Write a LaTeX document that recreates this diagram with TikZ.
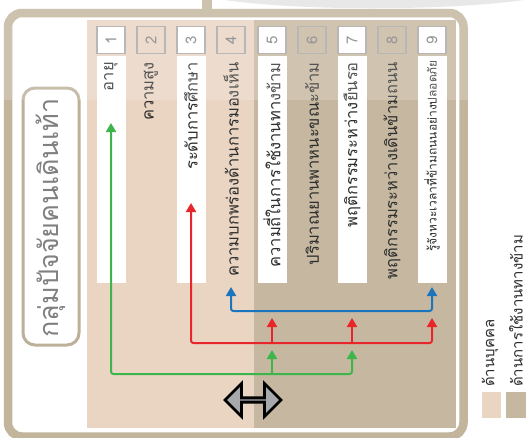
\documentclass[tikz,border=0pt]{standalone}
\usepackage{fontspec}
\newfontfamily\thaifont[Script=Thai]{Loma}
\usetikzlibrary{arrows.meta,shapes.arrows}

\definecolor{frameC}{HTML}{C3B59C}
\definecolor{lightC}{HTML}{EAD5C3}
\definecolor{darkC}{HTML}{C6B8A0}
\definecolor{boxB}{HTML}{A8A8A8}
\definecolor{titleB}{HTML}{BDB09A}
\definecolor{txtC}{HTML}{2E2E2E}
\definecolor{gArr}{HTML}{3DB54A}
\definecolor{rArr}{HTML}{E8252B}
\definecolor{bArr}{HTML}{1B75BC}
\definecolor{arrG}{HTML}{A7A9AC}
\definecolor{discC}{HTML}{E4E4E4}

\begin{document}
\begin{tikzpicture}[x=1pt,y=-1pt,
  numbox/.style={draw=boxB,line width=1.8pt,minimum width=27pt,minimum height=28pt,inner sep=0pt,rotate=90,
    font=\thaifont\fontsize{15}{15}\selectfont,text=gray},
  stripbox/.style={fill=white,minimum width=29pt,minimum height=227pt,inner sep=0pt,anchor=north},
  coltext/.style={rotate=90,anchor=east,inner sep=0pt,font=\thaifont\fontsize{16.5}{16.5}\selectfont,text=txtC},
  legtext/.style={rotate=90,anchor=west,inner sep=0pt,font=\thaifont\fontsize{15}{15}\selectfont,text=txtC},
  link/.style={line width=2pt,rounded corners=2.5pt},
  twotips/.style={{Triangle[width=10pt,length=9pt]}-{Triangle[width=10pt,length=9pt]}},
  onetip/.style={-{Triangle[width=10pt,length=9pt]}},
]
\useasboundingbox (0,0) rectangle (530,437);
\fill[white] (0,0) rectangle (530,437);
% background disc at top
\fill[discC] (225,0) .. controls (300,11) and (445,11) .. (524,0) -- cycle;

% frame
\fill[frameC] (202,0) rectangle (212,14);
\draw[frameC,line width=8.5pt,rounded corners=14pt,fill=white] (8,13) rectangle (463.5,436.5);

% column backgrounds
\fill[lightC] (87,20) rectangle (254,428);
\fill[darkC] (254,20) rectangle (456,428);

% title
\node[draw=titleB,line width=3pt,rounded corners=12pt,fill=white,minimum width=56pt,minimum height=257pt,inner sep=0pt] (titlebox) at (51,216.5) {};
\node[rotate=90,inner sep=0pt,font=\thaifont\fontsize{27}{27}\selectfont,text=gray] (titletext) at (51,218) {กลุ่มปัจจัยคนเดินเท้า};

% white strips (odd columns)
\foreach \i/\x in {1/111,3/191,5/272,7/352,9/432}{
  \node[stripbox] (s\i) at (\x,56) {};
}
% number boxes
\node[numbox,fill=white] (n1) at (111,40) {1};
\node[numbox,fill=lightC] (n2) at (151,40) {2};
\node[numbox,fill=white] (n3) at (191,40) {3};
\node[numbox,fill=lightC] (n4) at (231,40) {4};
\node[numbox,fill=white] (n5) at (272,40) {5};
\node[numbox,fill=darkC] (n6) at (312,40) {6};
\node[numbox,fill=white] (n7) at (352,40) {7};
\node[numbox,fill=darkC] (n8) at (392,40) {8};
\node[numbox,fill=white] (n9) at (432,40) {9};

% column texts
\node[coltext] (t1) at (111,62) {อายุ};
\node[coltext] (t2) at (151,62) {ความสูง};
\node[coltext] (t3) at (191,62) {ระดับการศึกษา};
\node[coltext] (t4) at (231,62) {ความบกพร่องด้านการมองเห็น};
\node[coltext] (t5) at (272,62) {ความถี่ในการใช้งานทางข้าม};
\node[coltext] (t6) at (312,62) {ปริมาณยานพาหนะขณะข้าม};
\node[coltext] (t7) at (352,62) {พฤติกรรมระหว่างยืนรอ};
\node[coltext] (t8) at (392,62) {พฤติกรรมระหว่างเดินข้ามถนน};
\node[coltext,font=\thaifont\fontsize{12}{12}\selectfont] (t9) at (432,60) {รู้จังหวะเวลาที่ข้ามถนนอย่างปลอดภัย};

% connector points
\coordinate (g1) at (111,123);
\coordinate (gc1) at (111,374);
\coordinate (gc7) at (352,374);
\coordinate (gb5) at (272,374);
\coordinate (g5) at (272,350);
\coordinate (g7) at (352,350);

\coordinate (r3) at (191,203);
\coordinate (rc3) at (191,343);
\coordinate (rc9) at (432,343);
\coordinate (rb5) at (272,343);
\coordinate (rb7) at (352,343);
\coordinate (r5) at (272,318);
\coordinate (r7) at (352,318);
\coordinate (r9) at (432,318);

\coordinate (b4) at (231,287);
\coordinate (bc4) at (231,311);
\coordinate (bc9) at (432,311);
\coordinate (b9) at (432,287);

% green
\draw[link,gArr,twotips] (g1) -- (gc1) -- (gc7) -- (g7);
\draw[link,gArr,onetip] (gb5) -- (g5);
% red
\draw[link,rArr,twotips] (r3) -- (rc3) -- (rc9) -- (r9);
\draw[link,rArr,onetip] (rb5) -- (r5);
\draw[link,rArr,onetip] (rb7) -- (r7);
% blue
\draw[link,bArr,twotips] (b4) -- (bc4) -- (bc9) -- (b9);

% double arrow
\node[double arrow,draw=black,fill=arrG,line width=2.8pt,minimum height=56pt,minimum width=33pt,
  double arrow head extend=9.5pt,inner sep=0pt] (dbl) at (253,400) {};

% faint top overlay
\fill[white,opacity=0.18] (0,0) rectangle (530,100);

% legend
\fill[lightC] (482,392) rectangle (501,418);
\fill[darkC] (506,392) rectangle (526,418);
\node[legtext] (l1) at (490,387) {ด้านบุคคล};
\node[legtext] (l2) at (516,387) {ด้านการใช้งานทางข้าม};
\end{tikzpicture}
\end{document}
